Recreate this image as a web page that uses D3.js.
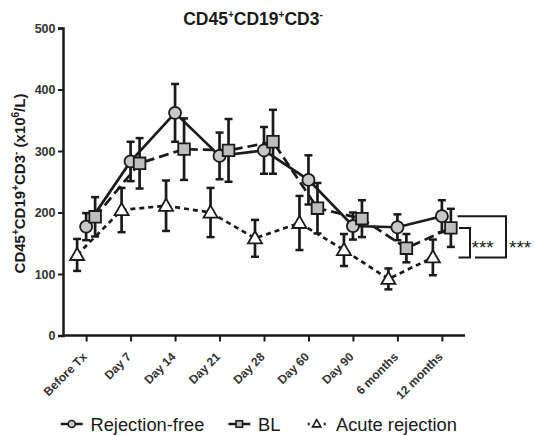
<!DOCTYPE html>
<html><head><meta charset="utf-8">
<script src="https://cdn.jsdelivr.net/npm/d3@7"></script>
<style>body{margin:0;background:#fff}svg{display:block;font-family:"Liberation Sans",Arial,sans-serif}</style>
</head><body>
<script>
const categories = ["Before Tx","Day 7","Day 14","Day 21","Day 28","Day 60","Day 90","6 months","12 months"];
const yTicks = [0,100,200,300,400,500];
const rfMean = [177,283,362,292,301,253,178,176,194];
const rfErr  = [22,32,47,38,38,40,22,21,26];
const blMean = [193,280,303,301,315,207,190,142,175];
const blErr  = [32,41,50,51,52,41,30,23,31];
const arMean = [131,204,211,200,158,183,139,92,127];
const arErr  = [26,36,41,40,30,44,26,17,29];
const seriesNames = ["Rejection-free","BL","Acute rejection"];
const sigLabels = ["***","***"];

const W=534,H=435;
const svg=d3.select("body").append("svg").attr("width",W).attr("height",H);
const x=d3.scalePoint().domain(categories).range([63,465]).padding(0.52);
const y=d3.scaleLinear().domain([0,500]).range([335.5,28]);
const ink="#1a1a1a";
const FF="Liberation Sans, Arial, sans-serif";

// title
const t=svg.append("text").attr("x",253).attr("y",25).attr("text-anchor","middle")
  .attr("font-size",17.5).attr("font-weight","bold").attr("fill",ink);
t.append("tspan").text("CD45");
t.append("tspan").text("+").attr("font-size",10).attr("dy",-7);
t.append("tspan").text("CD19").attr("dy",7);
t.append("tspan").text("+").attr("font-size",10).attr("dy",-7);
t.append("tspan").text("CD3").attr("dy",7);
t.append("tspan").text("-").attr("font-size",10).attr("dy",-7);

// y axis
const ya=svg.append("g").attr("transform","translate(63,0)")
  .call(d3.axisLeft(y).tickValues(yTicks).tickSize(5).tickPadding(2.5));
ya.select(".domain").attr("stroke",ink).attr("stroke-width",2.5);
ya.selectAll(".tick line").attr("stroke",ink).attr("stroke-width",2);
ya.selectAll(".tick text").attr("font-size",12.5).attr("font-weight","bold").attr("fill","#333")
  .attr("font-family",FF);

// x axis
const xa=svg.append("g").attr("transform","translate(0,"+y(0)+")")
  .call(d3.axisBottom(x).tickSize(6).tickSizeOuter(0));
xa.select(".domain").attr("stroke",ink).attr("stroke-width",2.5).attr("d","M63,0H465");
xa.selectAll(".tick line").attr("stroke",ink).attr("stroke-width",2);
xa.selectAll(".tick text").attr("font-size",12).attr("font-weight","bold").attr("fill","#333")
  .attr("font-family",FF).attr("x",0).attr("y",0).attr("dy",0)
  .attr("text-anchor","end").attr("transform","translate(1,22) rotate(-45)");

// y label
const yl=svg.append("text").attr("transform","translate(24.5,183.5) rotate(-90)").attr("text-anchor","middle")
  .attr("font-size",15).attr("font-weight","bold").attr("fill",ink);
yl.append("tspan").text("CD45");
yl.append("tspan").text("+").attr("font-size",10).attr("dy",-6);
yl.append("tspan").text("CD19").attr("dy",6);
yl.append("tspan").text("+").attr("font-size",10).attr("dy",-6);
yl.append("tspan").text("CD3").attr("dy",6);
yl.append("tspan").text("-").attr("font-size",10).attr("dy",-6);
yl.append("tspan").text(" (x10").attr("dy",6);
yl.append("tspan").text("6").attr("font-size",10).attr("dy",-6);
yl.append("tspan").text("/L)").attr("dy",6);

const series=[
 {name:seriesNames[0],mean:rfMean,err:rfErr,off:0,dash:null,shape:"circle",fill:"#c8c8c8"},
 {name:seriesNames[1],mean:blMean,err:blErr,off:9,dash:"10,5",shape:"square",fill:"#bdbdbd"},
 {name:seriesNames[2],mean:arMean,err:arErr,off:-9,dash:"5,4",shape:"triangle",fill:"#ffffff"}
];
const sym={circle:d3.symbol(d3.symbolCircle,115),square:d3.symbol(d3.symbolSquare,135),triangle:d3.symbol(d3.symbolTriangle,85)};

series.forEach(s=>{
  const line=d3.line().x((d,i)=>x(categories[i])+s.off).y(d=>y(d));
  svg.append("path").datum(s.mean).attr("d",line).attr("fill","none").attr("stroke",ink)
    .attr("stroke-width",2.7).attr("stroke-dasharray",s.dash);
});
series.forEach(s=>{
  const g=svg.append("g");
  s.mean.forEach((m,i)=>{
    const cx=x(categories[i])+s.off, top=y(m+s.err[i]), bot=y(m-s.err[i]);
    g.append("line").attr("x1",cx).attr("x2",cx).attr("y1",top).attr("y2",bot).attr("stroke",ink).attr("stroke-width",2.7);
    g.append("line").attr("x1",cx-4).attr("x2",cx+4).attr("y1",top).attr("y2",top).attr("stroke",ink).attr("stroke-width",2.5);
    g.append("line").attr("x1",cx-4).attr("x2",cx+4).attr("y1",bot).attr("y2",bot).attr("stroke",ink).attr("stroke-width",2.5);
  });
});
series.forEach(s=>{
  svg.append("g").selectAll("path").data(s.mean).join("path")
    .attr("d",sym[s.shape]).attr("transform",(d,i)=>"translate("+(x(categories[i])+s.off)+","+(y(d)+(s.shape==="triangle"?1:0))+")")
    .attr("fill",s.fill).attr("stroke",ink).attr("stroke-width",1.8);
});

// significance brackets
const last=categories.length-1;
const yRF=y(rfMean[last]), yBL=y(blMean[last]), yAR=y(arMean[last]);
svg.append("path").attr("d",`M457.5,${yRF}H506V${yAR}H475`).attr("fill","none").attr("stroke",ink).attr("stroke-width",2);
svg.append("path").attr("d",`M459,${yBL}H470V${yAR}H458.5`).attr("fill","none").attr("stroke",ink).attr("stroke-width",2);
const sy=(yBL+yAR)/2;
svg.append("text").attr("x",471.5).attr("y",sy+11).attr("font-size",19).attr("fill",ink).text(sigLabels[0]);
svg.append("text").attr("x",509).attr("y",sy+11).attr("font-size",19).attr("fill",ink).text(sigLabels[1]);

// legend
const leg=[{cx:71.7,tx:90.5},{cx:239.3,tx:258},{cx:316.7,tx:336}];
const ly=424;
series.forEach((s,i)=>{
  const L=leg[i];
  const g=svg.append("g");
  if(s.shape==="triangle"){
    g.append("line").attr("x1",L.cx-10).attr("x2",L.cx+10).attr("y1",ly).attr("y2",ly).attr("stroke",ink).attr("stroke-width",2.5).attr("stroke-dasharray","2,6").attr("stroke-dashoffset",-1);
  } else {
    g.append("line").attr("x1",L.cx-11).attr("x2",L.cx+11).attr("y1",ly).attr("y2",ly).attr("stroke",ink).attr("stroke-width",2.5);
  }
  const sz={circle:d3.symbol(d3.symbolCircle,40),square:d3.symbol(d3.symbolSquare,42),triangle:d3.symbol(d3.symbolTriangle,30)};
  g.append("path").attr("d",sz[s.shape]).attr("transform","translate("+L.cx+","+(ly+(s.shape==="triangle"?0.5:0))+")")
    .attr("fill",s.fill).attr("stroke",ink).attr("stroke-width",1.6);
  g.append("text").attr("x",L.tx).attr("y",ly+6.5).attr("font-size",18.3).attr("fill",ink).text(s.name);
});
</script>
</body></html>
